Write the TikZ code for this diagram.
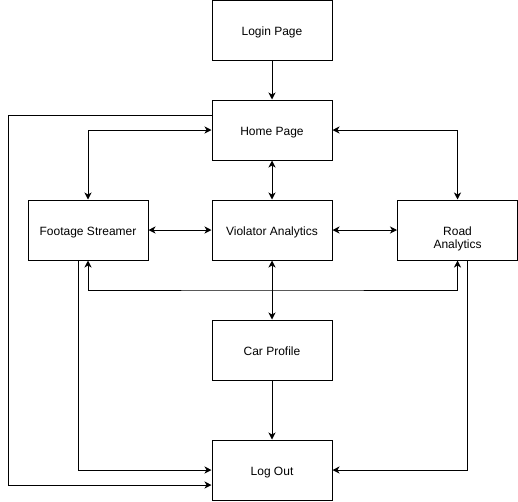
\documentclass[tikz,border=0pt]{standalone}
\usepackage{fontspec}
\setmainfont{Liberation Sans}
\usetikzlibrary{arrows.meta}
\begin{document}
\begin{tikzpicture}[x=1pt,y=-1pt,
  box/.style={draw, line width=1pt, minimum width=120pt, minimum height=60pt, inner sep=0pt, align=center, text height=12pt, text depth=2pt, font=\fontsize{12}{13}\selectfont},
  conn/.style={line width=1pt, arrows={-Stealth[length=7pt,width=7pt,inset=2pt]}},
  bconn/.style={line width=1pt, arrows={Stealth[length=7pt,width=7pt,inset=2pt]-Stealth[length=7pt,width=7pt,inset=2pt]}}]
\useasboundingbox (0,0) rectangle (518,501);
\node[box] (login) at (272,30) {Login Page};
\node[box] (home) at (272,130) {Home Page};
\node[box] (foot) at (88,230) {Footage Streamer};
\node[box] (viol) at (272,230) {Violator Analytics};
\node[box] (road) at (457.5,230) {\begin{tabular}[t]{@{}c@{}}Road\\Analytics\end{tabular}};
\node[box] (car) at (272,350) {Car Profile};
\node[box] (out) at (272,470) {Log Out};
\coordinate (j) at (272,290);
\coordinate (l1) at (8,115);
\coordinate (l2) at (8,485);
\draw[conn] (login) -- (home);
\draw[bconn] (home) -- (viol);
\draw[bconn] (foot) -- (viol);
\draw[bconn] (viol) -- (road);
\draw[bconn] (home.west) -| (foot.north);
\draw[bconn] (home.east) -| (road.north);
\draw[bconn] (viol) -- (car);
\draw[bconn] (foot.south) |- (j) -| (road.south);
\draw[conn] (car) -- (out);
\draw[conn] ([xshift=-10pt]foot.south) |- (out.west);
\draw[conn] ([xshift=10pt]road.south) |- (out.east);
\draw[conn] ([yshift=15pt]home.west) -- (l1) -- (l2) -- ([yshift=-15pt]out.west);
\end{tikzpicture}
\end{document}
